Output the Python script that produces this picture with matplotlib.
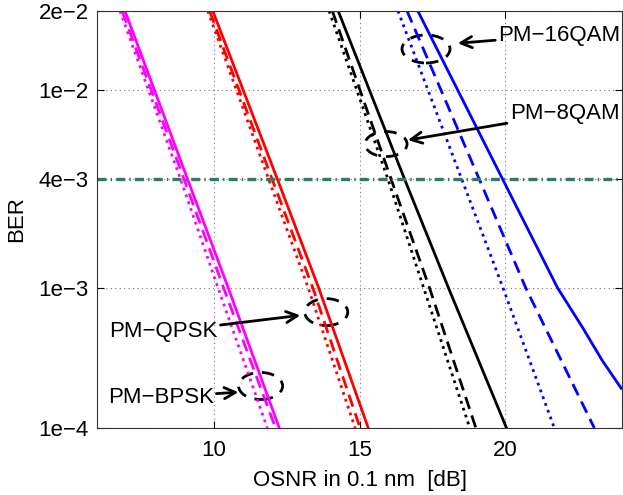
import numpy as np
import matplotlib
matplotlib.use('Agg')
import matplotlib.pyplot as plt
from matplotlib.patches import Ellipse
import matplotlib.transforms as mtransforms

params = {'font.family': ['Liberation Sans', 'DejaVu Sans'],
          'font.size': 16,
          'axes.linewidth': 0.8,
          'xtick.direction': 'in',
          'ytick.direction': 'in',
          'xtick.top': True,
          'ytick.right': True,
          }
matplotlib.rcParams.update(params)

# BER levels at which the OSNR of each curve was taken
ber_pts = [2e-2, 4e-3, 1e-3, 1e-4]

# OSNR [dB] for solid / dashed / dotted variants of each format
bpsk_solid = [6.96, 9.10, 10.50, 12.25]
bpsk_dash = [6.86, 8.98, 10.34, 12.12]
bpsk_dot = [6.79, 8.86, 10.15, 11.84]

qpsk_solid = [9.97, 12.18, 13.60, 15.30]
qpsk_dash = [9.86, 12.00, 13.40, 15.02]
qpsk_dot = [9.80, 11.88, 13.24, 14.85]

qam8_solid = [14.27, 16.54, 18.05, 20.04]
qam8_dash = [14.07, 16.08, 17.40, 18.99]
qam8_dot = [13.96, 15.97, 17.20, 18.78]

# 16QAM solid bends away at low BER
qam16_solid_ber = [2e-2, 4e-3, 1e-3, 5.6e-4, 3.3e-4, 2.06e-4]
qam16_solid = [17.00, 19.90, 21.79, 22.64, 23.32, 23.97]
qam16_dash = [16.63, 19.10, 20.70, 23.05]
qam16_dot = [16.32, 18.50, 19.92, 21.68]

fec_limit = 4e-3
yticks = [1e-4, 1e-3, 4e-3, 1e-2, 2e-2]
yticklabels = ['1e\u22124', '1e\u22123', '4e\u22123', '1e\u22122', '2e\u22122']
xticks = [10, 15, 20]


def fwd(b):
    with np.errstate(divide='ignore', invalid='ignore'):
        return -np.log10(-np.log10(b))


def inv(y):
    return 10.0 ** (-(10.0 ** (-y)))


fig = plt.figure(figsize=(6.23, 4.95), dpi=100)
ax = fig.add_axes([0.1557, 0.1354, 0.8427, 0.8424])
ax.set_yscale('function', functions=(fwd, inv))

dash = (0, (4.5, 2.5))
dot = (0, (1, 1.6))
lw = 2.0

groups = [
    ('#ff00ff', ber_pts, bpsk_solid, bpsk_dash, bpsk_dot),
    ('#ff0000', ber_pts, qpsk_solid, qpsk_dash, qpsk_dot),
    ('#000000', ber_pts, qam8_solid, qam8_dash, qam8_dot),
    ('#0000ff', qam16_solid_ber, qam16_solid, qam16_dash, qam16_dot),
]
for col, ber_s, s, d, o in groups:
    ax.plot(s, ber_s, color=col, lw=lw, ls='-')
    ax.plot(d, ber_pts, color=col, lw=lw, ls=dash)
    ax.plot(o, ber_pts, color=col, lw=lw, ls=dot)

ax.axhline(fec_limit, color='#2e7d5a', lw=2.4, ls=(0, (2.7, 1.25, 0.42, 1.25)))

ax.set_xlim(6, 24)
ax.set_ylim(1e-4, 2e-2)
ax.set_xticks(xticks)
ax.set_yticks(yticks)
ax.set_yticklabels(yticklabels)
ax.yaxis.set_minor_locator(matplotlib.ticker.NullLocator())
ax.xaxis.set_minor_locator(matplotlib.ticker.NullLocator())
ax.tick_params(length=5, width=0.8)
ax.tick_params(axis='x', pad=9)
ax.tick_params(axis='y', pad=6)
ax.grid(True, ls=(0, (1, 3)), color='#777777', lw=0.8)
for sp in ax.spines.values():
    sp.set_color('#333333')

ax.set_xlabel('OSNR in 0.1 nm  [dB]', labelpad=6)
ax.set_ylabel('BER', labelpad=8)

# dashed rings around each curve group
rings = [((17.28, 1.456e-2), 0.48, 0.28),
         ((15.91, 5.85e-3), 0.42, 0.25),
         ((13.86, 7.03e-4), 0.43, 0.27),
         ((11.61, 2.14e-4), 0.44, 0.27)]
for (cx, cy), w, h in rings:
    tr = fig.dpi_scale_trans + mtransforms.ScaledTranslation(cx, cy, ax.transData)
    ax.add_patch(Ellipse((0, 0), w, h, transform=tr, fill=False, ec='k',
                         lw=2, ls=(0, (4.5, 3.2)), clip_on=False))

arrow = dict(arrowstyle='->', lw=2, color='k', shrinkA=0, shrinkB=0,
             mutation_scale=20)
ax.annotate('PM\u221216QAM', xy=(18.37, 1.53e-2), xytext=(19.75, 1.64e-2),
            ha='left', va='center', arrowprops=arrow, annotation_clip=False)
ax.annotate('PM\u22128QAM', xy=(16.66, 6.1e-3), xytext=(20.15, 8.0e-3),
            ha='left', va='center', arrowprops=arrow)
ax.annotate('PM\u2212QPSK', xy=(12.97, 6.7e-4), xytext=(10.14, 5.2e-4),
            ha='right', va='center', arrowprops=arrow)
ax.annotate('PM\u2212BPSK', xy=(10.85, 1.92e-4), xytext=(10.0, 1.76e-4),
            ha='right', va='center', arrowprops=arrow)

fig.savefig('out.png', dpi=100)
